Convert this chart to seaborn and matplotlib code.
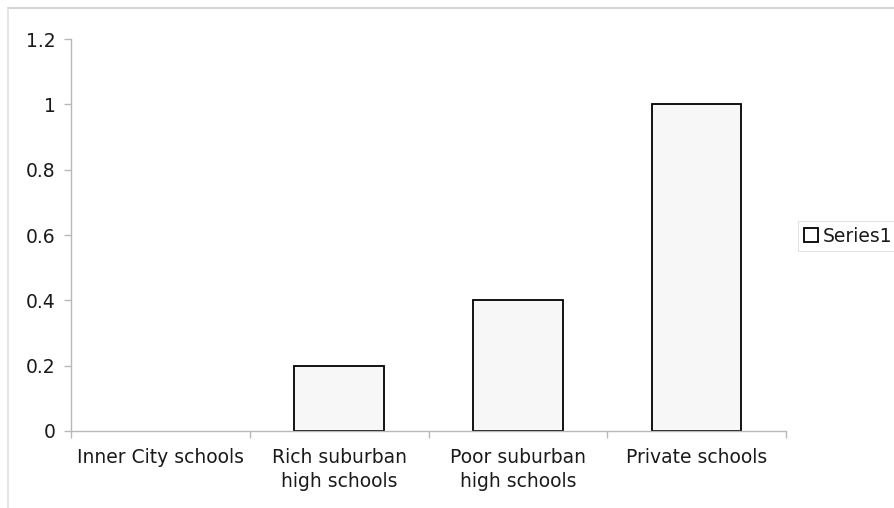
import matplotlib
matplotlib.use("Agg")
import matplotlib.pyplot as plt
from matplotlib.lines import Line2D
from matplotlib.patches import Patch
import seaborn as sns
import pandas as pd

categories = ["Inner City schools", "Rich suburban\nhigh schools",
              "Poor suburban\nhigh schools", "Private schools"]
values = [0.0, 0.2, 0.4, 1.0]
series_name = "Series1"
y_ticks = [0, 0.2, 0.4, 0.6, 0.8, 1.0, 1.2]
y_tick_labels = ["0", "0.2", "0.4", "0.6", "0.8", "1", "1.2"]

sns.set_theme(style="white")
plt.rcParams["font.family"] = ["DejaVu Sans"]

df = pd.DataFrame({"category": categories, "value": values})

fig = plt.figure(figsize=(8.94, 5.08), dpi=100)
ax = fig.add_axes([0.0794, 0.1516, 0.8000, 0.7716])

fill = "#f7f7f7"
sns.barplot(data=df, x="category", y="value", ax=ax, color=fill,
            width=0.5, edgecolor="black", linewidth=1.3, saturation=1)
# bars of zero height leave no outline on the axis
for bar, v in zip(ax.patches, values):
    if v == 0:
        bar.set_linewidth(0)

n = len(categories)
ax.set_xlim(-0.5, n - 0.5)
ax.set_ylim(0, 1.2)
ax.set_yticks(y_ticks)
ax.set_yticklabels(y_tick_labels)
ax.set_xlabel("")
ax.set_ylabel("")

fs = 13.5
text_col = "#1a1a1a"
grey = "#b8b8b8"
for side in ["top", "right"]:
    ax.spines[side].set_visible(False)
for side in ["left", "bottom"]:
    ax.spines[side].set_color(grey)
    ax.spines[side].set_linewidth(1.0)

# category labels centred, tick marks at the category boundaries
ax.set_xticks(range(n))
ax.set_xticks([i - 0.5 for i in range(n + 1)], minor=True)
ax.tick_params(axis="x", which="major", length=0, pad=12.5,
               labelsize=fs, labelcolor=text_col)
ax.tick_params(axis="x", which="minor", length=5, width=1.0, color=grey,
               direction="out", bottom=True)
ax.tick_params(axis="y", length=5, width=1.0, color=grey, direction="out",
               left=True, labelsize=fs, labelcolor=text_col, pad=6)
for lbl in ax.get_xticklabels():
    lbl.set_linespacing(1.3)

handle = Patch(facecolor="white", edgecolor="black", linewidth=1.3)
leg = fig.legend([handle], [series_name], loc="center left",
                 bbox_to_anchor=(0.893, 0.535), frameon=True, fontsize=fs,
                 handlelength=0.75, handleheight=0.75, handletextpad=0.25,
                 borderpad=0.3, fancybox=False, borderaxespad=0)
leg.get_frame().set_edgecolor("#dddddd")
leg.get_frame().set_linewidth(0.8)
for t in leg.get_texts():
    t.set_color(text_col)

# chart area border along the top and left
fig.add_artist(Line2D([8 / 894, 1.0], [1 - 8 / 508, 1 - 8 / 508],
                      transform=fig.transFigure, color="#d4d4d4", lw=1.5))
fig.add_artist(Line2D([8 / 894, 8 / 894], [0.0, 1 - 8 / 508],
                      transform=fig.transFigure, color="#e0e0e0", lw=1.2))

fig.savefig("out.png", dpi=100, facecolor="white")
